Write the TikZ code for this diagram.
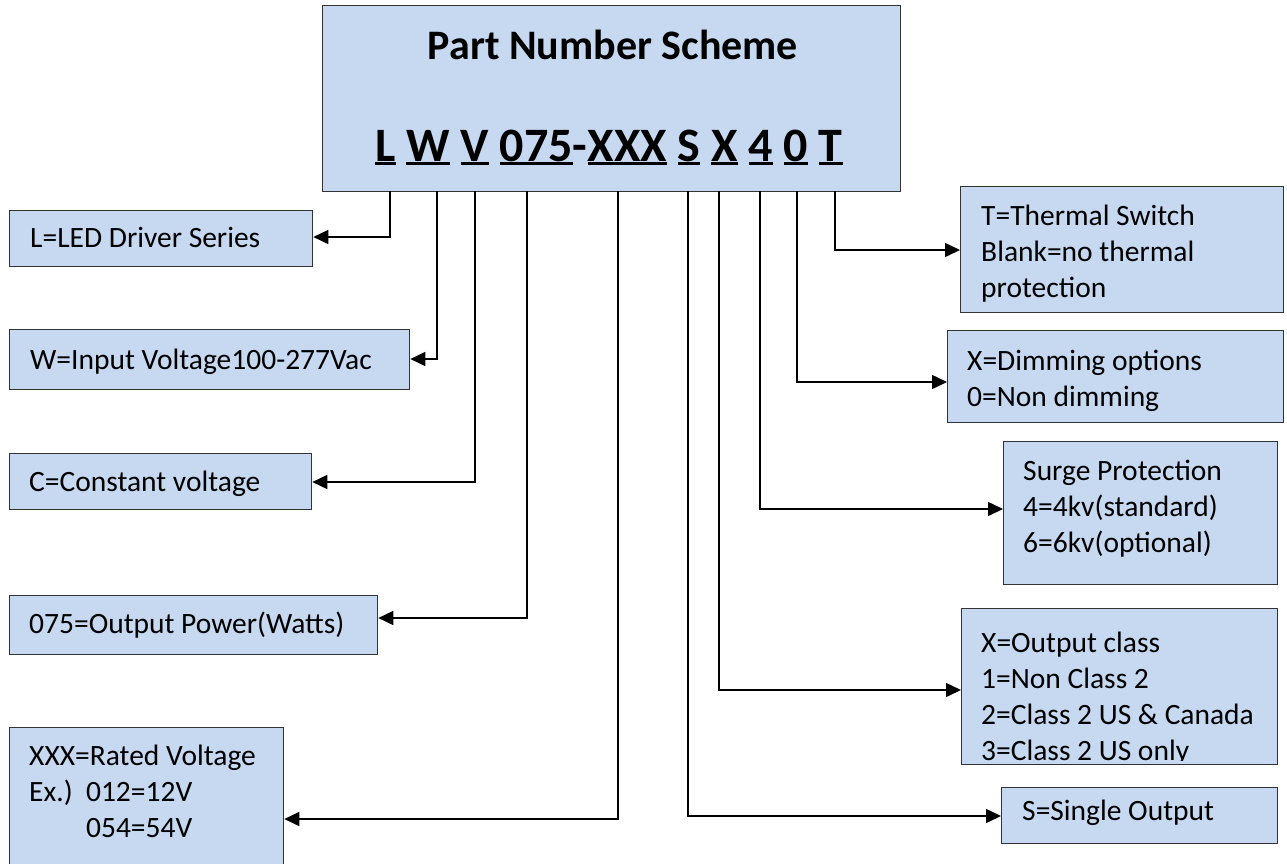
\documentclass[tikz,border=0pt]{standalone}
\usepackage{fontspec}
\setmainfont{Carlito}
\usetikzlibrary{arrows.meta}
\definecolor{boxfill}{HTML}{C6D9F1}
\definecolor{boxline}{HTML}{333333}
\newcommand\useg[1]{\setbox0\hbox{#1}\rlap{\rule[-4pt]{\wd0}{3pt}}\box0\relax}
\newcommand\bodyfont{\fontsize{29.5}{36}\selectfont}
\begin{document}
\begin{tikzpicture}[x=1pt,y=-1pt,
  boxstyle/.style={draw=boxline, line width=1.3pt, fill=boxfill, anchor=north west, inner sep=0pt},
  txt/.style={anchor=north west, inner sep=0pt, align=left, font=\bodyfont},
  conn/.style={draw=black, line width=1.5pt, -{Triangle[length=15pt,width=14pt]}}]
\useasboundingbox (0,0) rectangle (1287,863);
% title box
\node[boxstyle, minimum width=578pt, minimum height=186pt] (title) at (322,5) {};
\node[anchor=base, inner sep=0pt, font=\bfseries\fontsize{42}{50}\selectfont] (ttl) at (613,59) {Part Number Scheme};
\node[anchor=base west, inner sep=0pt, font=\bfseries\fontsize{48}{56}\selectfont] (pn) at (375,161)
  {\useg{L} \useg{W} \useg{V} \useg{075}-\useg{XXX} \useg{S} \useg{X} \useg{4} \useg{0} \useg{T}};
% left boxes
\node[boxstyle, minimum width=303pt, minimum height=56pt] (bL) at (9,210) {};
\node[txt] (tL) at (30,247-25.2) {\strut L=LED Driver Series};
\node[boxstyle, minimum width=400pt, minimum height=60pt] (bW) at (9,329) {};
\node[txt] (tW) at (30,369-25.2) {\strut W=Input Voltage100-277Vac};
\node[boxstyle, minimum width=302pt, minimum height=56pt] (bC) at (9,453) {};
\node[txt] (tC) at (29,491-25.2) {\strut C=Constant voltage};
\node[boxstyle, minimum width=368pt, minimum height=59pt] (b075) at (9,595) {};
\node[txt] (t075) at (29,633-25.2) {\strut 075=Output Power(Watts)};
\node[boxstyle, minimum width=274pt, minimum height=137pt] (bX) at (9,727) {};
\node[txt] (tX) at (29,765-25.2) {\strut XXX=Rated Voltage\\\strut Ex.)\ \ 012=12V\\\strut\phantom{Ex.)}\ \ 054=54V};
% right boxes
\node[boxstyle, minimum width=323pt, minimum height=126pt] (bT) at (960,186) {};
\node[txt] (tT) at (981,225-25.2) {\strut T=Thermal Switch\\\strut Blank=no thermal\\\strut protection};
\node[boxstyle, minimum width=336pt, minimum height=92pt] (bD) at (947,330) {};
\node[txt] (tD) at (967,370-25.2) {\strut X=Dimming options\\\strut 0=Non dimming};
\node[boxstyle, minimum width=274pt, minimum height=143pt] (bS) at (1003,441) {};
\node[txt] (tS) at (1023,480-25.2) {\strut Surge Protection\\\strut 4=4kv(standard)\\\strut 6=6kv(optional)};
\node[boxstyle, minimum width=316pt, minimum height=156pt] (bOC) at (961,608) {};
\begin{scope}
\clip (962,609) rectangle (1276,760);
\node[txt] (tOC) at (981,652-25.2) {\strut X=Output class\\\strut 1=Non Class 2\\\strut 2=Class 2 US \& Canada\\\strut 3=Class 2 US only};
\end{scope}
\node[boxstyle, minimum width=276pt, minimum height=56pt] (bSO) at (1001,787) {};
\node[txt] (tSO) at (1022,820-25.2) {\strut S=Single Output};
% connector start points
\coordinate (pL) at (390,191);
\coordinate (pW) at (437,191);
\coordinate (pV) at (475,191);
\coordinate (p075) at (527,191);
\coordinate (pXXX) at (618,191);
\coordinate (pS) at (688,191);
\coordinate (pX) at (719,191);
\coordinate (p4) at (760,191);
\coordinate (p0) at (797,191);
\coordinate (pT) at (835,191);
% connectors
\draw[conn] (pL) |- (bL.east |- 0,237);
\draw[conn] (pW) |- (bW.east |- 0,359);
\draw[conn] (pV) |- (bC.east |- 0,482);
\draw[conn] (p075) |- (b075.east |- 0,618);
\draw[conn] (pXXX) |- (bX.east |- 0,819);
\draw[conn] (pS) |- (bSO.west |- 0,816);
\draw[conn] (pX) |- (bOC.west |- 0,690);
\draw[conn] (p4) |- (bS.west |- 0,509);
\draw[conn] (p0) |- (bD.west |- 0,382);
\draw[conn] (pT) |- (bT.west |- 0,250);
\end{tikzpicture}
\end{document}
